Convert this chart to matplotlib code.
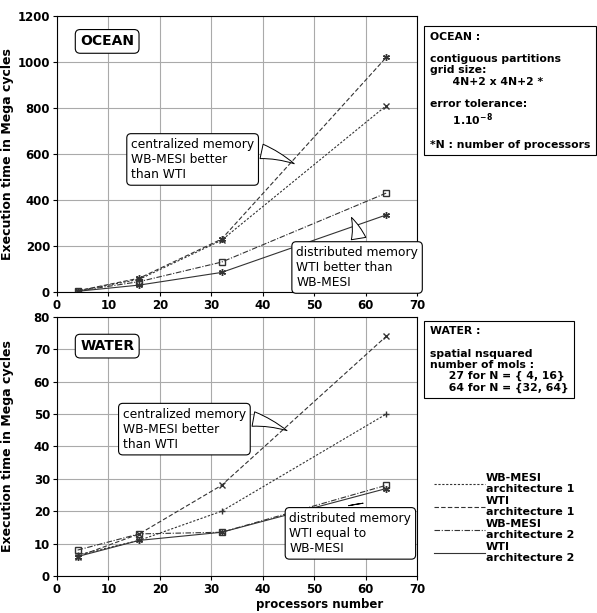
import numpy as np
from matplotlib import pyplot as plt
from matplotlib.lines import Line2D

procs = [4, 16, 32, 64]

ocean_wbmesi_1 = [5, 55, 225, 810]
ocean_wti_1 = [5, 60, 230, 1020]
ocean_wbmesi_2 = [4, 45, 130, 430]
ocean_wti_2 = [3, 30, 85, 335]

water_wbmesi_1 = [6.5, 11, 20, 50]
water_wti_1 = [6, 13, 28, 74]
water_wbmesi_2 = [8, 13, 13.5, 28]
water_wti_2 = [6, 11, 13.5, 27]

labels = ['WB-MESI\narchitecture 1', 'WTI\narchitecture 1',
          'WB-MESI\narchitecture 2', 'WTI\narchitecture 2']
styles = [(0, (2, 1.5)), (0, (4, 2)), (0, (5, 1.5, 1, 1.5)), '-']
star = (6, 2, 0)
ocean_markers = ['x', star, 's', star]
water_markers = ['+', 'x', 's', star]

plt.rcParams['font.family'] = 'DejaVu Sans'
plt.rcParams['font.weight'] = 'bold'
fig = plt.figure(figsize=(5.97, 6.13), dpi=100)
ax1 = fig.add_axes([0.0955, 0.5237, 0.603, 0.450])
ax2 = fig.add_axes([0.0955, 0.0604, 0.603, 0.4225])

def draw(ax, series, markers, ymax, ystep):
    for vals, ls, mk in zip(series, styles, markers):
        ax.plot(procs, vals, linestyle=ls, marker=mk, markersize=5,
                markerfacecolor='none', color='#333333', linewidth=0.8)
    ax.set_xlim(0, 70)
    ax.set_ylim(0, ymax)
    ax.set_xticks(np.arange(0, 71, 10))
    ax.set_yticks(np.arange(0, ymax + 1, ystep))
    ax.grid(True, color='#aaaaaa', linewidth=0.8)
    ax.tick_params(labelsize=8.5, length=3, pad=2)
    ax.set_ylabel('Execution time in Mega cycles', fontsize=9, fontweight='bold')
    ax.yaxis.set_label_coords(-0.12, 0.5)

draw(ax1, [ocean_wbmesi_1, ocean_wti_1, ocean_wbmesi_2, ocean_wti_2], ocean_markers, 1200, 200)
draw(ax2, [water_wbmesi_1, water_wti_1, water_wbmesi_2, water_wti_2], water_markers, 80, 10)
ax2.set_xlabel('processors number', fontsize=8.5, fontweight='bold')
ax2.xaxis.set_label_coords(0.73, -0.085)

box = dict(boxstyle='round,pad=0.35', facecolor='white', edgecolor='black', linewidth=0.8)
wedge = dict(arrowstyle='wedge,tail_width=1.2', facecolor='white', edgecolor='black',
             linewidth=0.7, connectionstyle='arc3,rad=-0.25')

# ocean
ax1.text(4.5, 1090, 'OCEAN', fontsize=10, fontweight='bold', va='center', bbox=box)
ax1.annotate('centralized memory\nWB-MESI better\nthan WTI', xy=(46.6, 552), xytext=(14.4, 670),
             fontsize=8.8, fontweight='normal', va='top', ha='left', bbox=box, arrowprops=wedge)
ax1.annotate('distributed memory\nWTI better than\nWB-MESI', xy=(57, 335), xytext=(46.5, 200),
             fontsize=8.8, fontweight='normal', va='top', ha='left', bbox=box,
             arrowprops=dict(wedge, connectionstyle='arc3,rad=0.2'))

# water
ax2.text(4.5, 71, 'WATER', fontsize=10, fontweight='bold', va='center', bbox=box)
ax2.annotate('centralized memory\nWB-MESI better\nthan WTI', xy=(45.2, 44.5), xytext=(12.8, 52),
             fontsize=8.8, fontweight='normal', va='top', ha='left', bbox=box, arrowprops=wedge)
ax2.annotate('distributed memory\nWTI equal to\nWB-MESI', xy=(58, 23), xytext=(45.2, 19.8),
             fontsize=8.8, fontweight='normal', va='top', ha='left', bbox=box,
             arrowprops=dict(wedge, connectionstyle='arc3,rad=0.2'))

info = dict(boxstyle='square,pad=0.5', facecolor='white', edgecolor='black', linewidth=0.8)
fig.text(0.72, 0.948,
         'OCEAN :\n\ncontiguous partitions\ngrid size:\n      4N+2 x 4N+2 *\n\n'
         'error tolerance:\n      1.10$^{-8}$\n\n*N : number of processors',
         fontsize=7.8, fontweight='bold', va='top', ha='left', linespacing=1.15, bbox=info)
fig.text(0.72, 0.468,
         'WATER :\n\nspatial nsquared\nnumber of mols :\n     27 for N = { 4, 16}\n     64 for N = {32, 64}',
         fontsize=7.8, fontweight='bold', va='top', ha='left', linespacing=1.15, bbox=info)

handles = [Line2D([], [], linestyle=ls, color='#333333', linewidth=0.8) for ls in styles]
fig.legend(handles=handles, labels=labels, loc='upper left', bbox_to_anchor=(0.71, 0.245),
           frameon=False, prop={'size': 8, 'weight': 'bold'}, handlelength=4.6,
           labelspacing=0.12, handletextpad=0.1)

fig.savefig('out.png', dpi=100)
